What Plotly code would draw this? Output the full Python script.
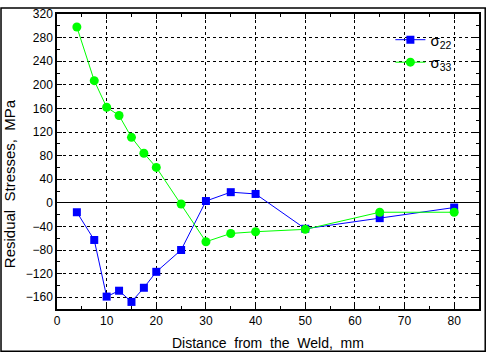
import plotly.graph_objects as go

x_vals = [4, 7.5, 10, 12.5, 15, 17.5, 20, 25, 30, 35, 40, 50, 65, 80]
sigma22 = [-16, -63, -159, -149, -168, -144, -117, -80, 3, 18, 15, -44, -26, -8]
sigma33 = [298, 207, 162, 148, 111, 84, 60, -2, -66, -52, -49, -45, -16, -16]

W, H = 488, 353
ml, mr, mt, mb = 57, 7, 7, 44
pw, ph = W - ml - mr, H - mt - mb

fig = go.Figure()
fig.add_trace(go.Scatter(x=x_vals, y=sigma22, mode="lines+markers", name="σ<sub>22</sub>",
                         line=dict(color="#0000ff", width=1),
                         marker=dict(symbol="square", size=8, color="#0000ff")))
fig.add_trace(go.Scatter(x=x_vals, y=sigma33, mode="lines+markers", name="σ<sub>33</sub>",
                         line=dict(color="#00ff00", width=1),
                         marker=dict(symbol="circle", size=9, color="#00ff00")))

font = "Liberation Sans, Arial, sans-serif"
fig.update_layout(
    width=W, height=H,
    margin=dict(l=ml, r=mr, t=mt, b=mb),
    paper_bgcolor="white", plot_bgcolor="white",
    font=dict(family=font, size=11, color="black"),
    showlegend=True,
    legend=dict(x=0.79, y=0.968, xanchor="left", yanchor="top", bgcolor="rgba(0,0,0,0)",
                font=dict(size=15), tracegroupgap=0, itemwidth=30),
    xaxis=dict(range=[0, 85], dtick=10, tick0=0, showgrid=True, gridcolor="black", griddash="dot",
               gridwidth=1, zeroline=False, showline=True, linecolor="black", linewidth=1.5,
               mirror="ticks", ticks="inside", ticklen=5, tickcolor="black",
               minor=dict(dtick=5, ticks="inside", ticklen=3, tickcolor="black", showgrid=False),
               tickfont=dict(size=12)),
    yaxis=dict(range=[-180, 320], dtick=40, tick0=0, showgrid=True, gridcolor="black", griddash="dot",
               gridwidth=1, zeroline=True, zerolinecolor="black", zerolinewidth=1,
               showline=True, linecolor="black", linewidth=1.5,
               mirror="ticks", ticks="inside", ticklen=5, tickcolor="black",
               minor=dict(dtick=20, ticks="inside", ticklen=3, tickcolor="black", showgrid=False),
               tickfont=dict(size=12)),
)

# axis titles as annotations for precise placement
fig.add_annotation(text="Distance  from  the  Weld,  mm", xref="paper", yref="paper",
                   x=0.5, y=-(344 - mt - ph) / ph, xanchor="center", yanchor="middle",
                   showarrow=False, font=dict(size=14))
fig.add_annotation(text="Residual  Stresses,  MPa", xref="paper", yref="paper",
                   x=(10 - ml) / pw, y=1 - (181 - mt) / ph, xanchor="center", yanchor="middle",
                   textangle=-90, showarrow=False, font=dict(size=15))

# outer frame around the whole figure
fig.add_shape(type="rect", xref="paper", yref="paper",
              x0=(0.75 - ml) / pw, x1=(W - 0.75 - ml) / pw,
              y0=-(mb - 0.75) / ph, y1=1 + (mt - 0.75) / ph,
              line=dict(color="black", width=1.5), fillcolor="rgba(0,0,0,0)", layer="above")

fig.write_html("out.html")
